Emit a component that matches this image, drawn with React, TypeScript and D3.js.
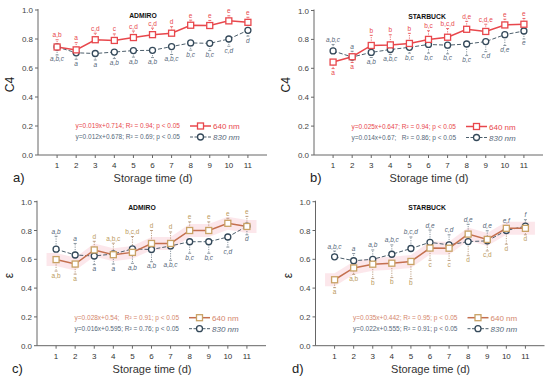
import React from 'react';
import * as d3 from 'd3';

// storage days
const days = [1, 2, 3, 4, 5, 6, 7, 8, 9, 10, 11];
const yTicks = [0, 0.2, 0.4, 0.6, 0.8, 1.0];
const xTicks = [1, 2, 3, 4, 5, 6, 7, 8, 9, 10, 11];

// a) C4 ADMIRO
const c4Admiro640 = [0.745, 0.725, 0.795, 0.79, 0.81, 0.83, 0.84, 0.895, 0.893, 0.925, 0.915];
const c4Admiro640Err = [0.05, 0.05, 0.045, 0.045, 0.045, 0.045, 0.045, 0.035, 0.035, 0.035, 0.035];
const c4Admiro640Dir = [1, 1, 1, 1, 1, 1, 1, 1, 1, 1, 1];
const c4Admiro640Sig = ['a,b', 'a', 'c,d', 'c', 'c,d', 'c,d', 'd', 'e', 'e', 'e', 'e'];
const c4Admiro830 = [0.745, 0.705, 0.70, 0.71, 0.72, 0.722, 0.748, 0.773, 0.77, 0.80, 0.86];
const c4Admiro830Err = [0.055, 0.045, 0.045, 0.045, 0.045, 0.05, 0.055, 0.05, 0.05, 0.05, 0.04];
const c4Admiro830Dir = [-1, -1, -1, -1, -1, -1, -1, -1, -1, -1, -1];
const c4Admiro830Sig = ['a,b,c', 'a', 'a', 'a,b', 'a,b', 'a,b', 'a,b,c', 'b,c', 'b,c', 'c,d', 'd'];

// b) C4 STARBUCK
const c4Star640 = [0.643, 0.68, 0.758, 0.762, 0.772, 0.80, 0.815, 0.87, 0.855, 0.90, 0.905];
const c4Star640Err = [0.045, 0.04, 0.07, 0.07, 0.07, 0.06, 0.06, 0.055, 0.05, 0.04, 0.04];
const c4Star640Dir = [-1, -1, 1, 1, 1, 1, 1, 1, 1, 1, 1];
const c4Star640Sig = ['a', 'a', 'b', 'b', 'b', 'b,c', 'b,c,d', 'd,e', 'c,d,e', 'e', 'e'];
const c4Star830 = [0.72, 0.678, 0.71, 0.73, 0.745, 0.765, 0.76, 0.768, 0.785, 0.833, 0.858];
const c4Star830Err = [0.045, 0.04, 0.035, 0.035, 0.04, 0.06, 0.06, 0.08, 0.07, 0.075, 0.055];
const c4Star830Dir = [1, 1, -1, -1, -1, -1, -1, -1, -1, -1, -1];
const c4Star830Sig = ['a,b,c', 'a', 'a,b', 'a,b,c', 'b,c', 'b,c', 'b,c', 'b,c', 'c,d', 'd,e', 'e'];

// c) epsilon ADMIRO
const epsAdmiro640 = [0.598, 0.567, 0.665, 0.632, 0.648, 0.71, 0.71, 0.80, 0.80, 0.85, 0.828];
const epsAdmiro640Err = [0.08, 0.07, 0.06, 0.08, 0.11, 0.09, 0.08, 0.06, 0.06, 0.035, 0.07];
const epsAdmiro640Dir = [-1, -1, 1, 1, 1, 1, 1, 1, 1, 1, 1];
const epsAdmiro640Sig = ['a,b', 'a', 'd', 'a,b,c', 'b,c,d', 'd', 'd', 'e', 'e', 'e', 'e'];
const epsAdmiro830 = [0.67, 0.63, 0.623, 0.637, 0.672, 0.668, 0.693, 0.722, 0.722, 0.755, 0.83];
const epsAdmiro830Err = [0.09, 0.08, 0.06, 0.07, 0.1, 0.085, 0.1, 0.08, 0.08, 0.07, 0.06];
const epsAdmiro830Dir = [1, 1, -1, -1, -1, -1, -1, -1, -1, -1, -1];
const epsAdmiro830Sig = ['a,b', 'a', 'a', 'a', 'a,b', 'a,b', 'a,b,c', 'b,c', 'b,c', 'c,d', 'd'];

// d) epsilon STARBUCK
const epsStar640 = [0.458, 0.54, 0.566, 0.573, 0.585, 0.678, 0.677, 0.775, 0.738, 0.815, 0.815];
const epsStar640Err = [0.055, 0.045, 0.1, 0.1, 0.12, 0.085, 0.085, 0.15, 0.08, 0.11, 0.045];
const epsStar640Dir = [-1, -1, -1, -1, -1, -1, -1, -1, -1, -1, -1];
const epsStar640Sig = ['a', 'a,b', 'b', 'b', 'b', 'c', 'c', 'd', 'c,d', 'd', 'd'];
const epsStar830 = [0.617, 0.59, 0.60, 0.635, 0.675, 0.718, 0.70, 0.723, 0.728, 0.80, 0.83];
const epsStar830Err = [0.04, 0.05, 0.065, 0.065, 0.08, 0.085, 0.07, 0.12, 0.07, 0.035, 0.045];
const epsStar830Dir = [1, 1, 1, 1, 1, 1, 1, 1, 1, 1, 1];
const epsStar830Sig = ['a,b,c', 'a', 'a,b', 'a,b,c', 'b,c,d', 'd,e', 'c,d', 'd,e', 'd,e', 'e,f', 'f'];

const FONT = '"Liberation Sans", Arial, sans-serif';
const SLATE = '#34495a';
const SLATE_TXT = '#56687a';

type Series = { v: number[]; err: number[]; dir: number[]; sig: string[] };

type PanelProps = {
  ox: number; top: number; bottom: number;
  title: string; titleX: number; yLabel: string; tag: string; tagX: number;
  s640: Series; s830: Series; eq640: string; eq830: string;
  warm: boolean;
};

function Panel(p: PanelProps) {
  const x = d3.scaleLinear().domain([0, 12]).range([p.ox, p.ox + 229]);
  const y = d3.scaleLinear().domain([0, 1]).range([p.bottom, p.top]);
  const line = d3.line<number>().x((_, i) => x(days[i])).y(d => y(d));
  const c640 = p.warm ? '#c4704f' : '#e8474c';
  const m640 = p.warm ? '#c9a265' : '#e8474c';
  const t640 = p.warm ? '#bb9a5c' : '#e8474c';
  const eqc640 = p.warm ? '#d4866c' : '#e8474c';
  // shaded band behind the 640 nm series (panels c, d)
  const bandVals = [p.s640.v[0], ...p.s640.v, p.s640.v[p.s640.v.length - 1]];
  const bandArea = d3.area<number>()
    .x((_, i) => x(i === 0 ? 0.5 : i === bandVals.length - 1 ? 11.5 : days[i - 1]))
    .y0(d => y(d - 0.045)).y1(d => y(d + 0.045));

  const errBars = (s: Series, col: string, tcol: string, italic: boolean) =>
    s.v.map((v, i) => {
      const end = y(v + s.dir[i] * s.err[i]);
      const ly = s.dir[i] > 0 ? end - 2.5 : end + 6.5;
      return (
        <g key={i}>
          <line x1={x(days[i])} x2={x(days[i])} y1={y(v)} y2={end} stroke={col} strokeWidth={0.8} strokeDasharray="1.2,1.2" />
          <line x1={x(days[i]) - 1.5} x2={x(days[i]) + 1.5} y1={end} y2={end} stroke={col} strokeWidth={0.8} />
          <text x={x(days[i])} y={ly} fontSize={6.5} textAnchor="middle" fill={tcol} fontStyle={italic ? 'italic' : 'normal'}>{s.sig[i]}</text>
        </g>
      );
    });

  const ly1 = p.top + 116;
  const ly2 = p.top + 127;
  return (
    <g fontFamily={FONT}>
      {p.warm && <path d={bandArea(bandVals) || ''} fill="#fce3e8" opacity={0.85} />}
      {/* axes */}
      <line x1={p.ox} x2={p.ox} y1={p.top - 1} y2={p.bottom} stroke="#666" strokeWidth={1} />
      <line x1={p.ox} x2={p.ox + 229} y1={p.bottom} y2={p.bottom} stroke="#666" strokeWidth={1} />
      {yTicks.map(t => (
        <g key={t}>
          <line x1={p.ox - 3} x2={p.ox} y1={y(t)} y2={y(t)} stroke="#666" />
          <text x={p.ox - 5} y={y(t) + 3} fontSize={8} textAnchor="end" fill="#444">{t.toFixed(1)}</text>
        </g>
      ))}
      {xTicks.map(t => (
        <g key={t}>
          <line x1={x(t)} x2={x(t)} y1={p.bottom} y2={p.bottom + 3} stroke="#666" />
          <text x={x(t)} y={p.bottom + 13} fontSize={8} textAnchor="middle" fill="#333">{t}</text>
        </g>
      ))}
      <text x={p.ox + 115} y={p.bottom + 27} fontSize={11} textAnchor="middle" fill="#333">Storage time (d)</text>
      <text x={p.tagX} y={p.bottom + 27} fontSize={13} fill="#222">{p.tag}</text>
      <text transform={`translate(${p.ox - 24},${(p.top + p.bottom) / 2 + 2}) rotate(-90)`} fontSize={12} textAnchor="middle" fill="#222">{p.yLabel}</text>
      <text x={p.titleX} y={p.top + 8} fontSize={6.8} fontWeight="bold" textAnchor="middle" fill="#111">{p.title}</text>

      {/* error bars + significance letters */}
      {errBars(p.s830, '#6b7a86', SLATE_TXT, true)}
      {errBars(p.s640, p.warm ? '#b08b6a' : '#e8474c', t640, false)}

      {/* lines */}
      <path d={line(p.s830.v) || ''} fill="none" stroke="#4d5f6c" strokeWidth={1} strokeDasharray="4,2" />
      <path d={line(p.s640.v) || ''} fill="none" stroke={c640} strokeWidth={1.5} />
      {p.s830.v.map((v, i) => (
        <circle key={i} cx={x(days[i])} cy={y(v)} r={3} fill="#fff" stroke={SLATE} strokeWidth={1.3} />
      ))}
      {p.s640.v.map((v, i) => (
        <rect key={i} x={x(days[i]) - 3} y={y(v) - 3} width={6} height={6} fill="#fff" stroke={m640} strokeWidth={1.3} />
      ))}

      {/* legend */}
      <text x={p.ox + 142} y={ly1 + 2} fontSize={6.5} textAnchor="end" fill={eqc640} style={{ whiteSpace: 'pre' }}>{p.eq640}</text>
      <text x={p.ox + 142} y={ly2 + 2} fontSize={6.5} textAnchor="end" fill={SLATE_TXT} style={{ whiteSpace: 'pre' }}>{p.eq830}</text>
      <line x1={p.ox + 152} x2={p.ox + 173} y1={ly1} y2={ly1} stroke={c640} strokeWidth={1.5} />
      <rect x={p.ox + 159.5} y={ly1 - 3} width={6} height={6} fill="#fff" stroke={m640} strokeWidth={1.3} />
      <text x={p.ox + 175} y={ly1 + 3} fontSize={8} fill={eqc640}>640 nm</text>
      <line x1={p.ox + 152} x2={p.ox + 173} y1={ly2} y2={ly2} stroke="#4d5f6c" strokeWidth={1} strokeDasharray="3,1.5" />
      <circle cx={p.ox + 162.5} cy={ly2} r={3} fill="#fff" stroke={SLATE} strokeWidth={1.3} />
      <text x={p.ox + 175} y={ly2 + 3} fontSize={8} fontStyle="italic" fill={SLATE_TXT}>830 nm</text>
    </g>
  );
}

export default function App() {
  return (
    <svg width={550} height={378} style={{ position: 'absolute', left: 0, top: 0, background: '#fff' }}>
      <Panel ox={38} top={10} bottom={155} title="ADMIRO" titleX={143} yLabel="C4" tag="a)" tagX={13}
        s640={{ v: c4Admiro640, err: c4Admiro640Err, dir: c4Admiro640Dir, sig: c4Admiro640Sig }}
        s830={{ v: c4Admiro830, err: c4Admiro830Err, dir: c4Admiro830Dir, sig: c4Admiro830Sig }}
        eq640="y=0.019x+0.714; R² = 0.94; p < 0.05" eq830="y=0.012x+0.678; R² = 0.69; p < 0.05" warm={false} />
      <Panel ox={314} top={10.5} bottom={155} title="STARBUCK" titleX={427} yLabel="C4" tag="b)" tagX={310}
        s640={{ v: c4Star640, err: c4Star640Err, dir: c4Star640Dir, sig: c4Star640Sig }}
        s830={{ v: c4Star830, err: c4Star830Err, dir: c4Star830Dir, sig: c4Star830Sig }}
        eq640="y=0.025x+0.647; R² = 0.94; p < 0.05" eq830="y=0.014x+0.67;   R² = 0.86; p < 0.05" warm={false} />
      <Panel ox={37} top={201.7} bottom={345.7} title="ADMIRO" titleX={142} yLabel="ε" tag="c)" tagX={12}
        s640={{ v: epsAdmiro640, err: epsAdmiro640Err, dir: epsAdmiro640Dir, sig: epsAdmiro640Sig }}
        s830={{ v: epsAdmiro830, err: epsAdmiro830Err, dir: epsAdmiro830Dir, sig: epsAdmiro830Sig }}
        eq640="y=0.028x+0.54;   R² = 0.91; p < 0.05" eq830="y=0.016x+0.595; R² = 0.76; p < 0.05" warm={true} />
      <Panel ox={315.5} top={201.7} bottom={345.7} title="STARBUCK" titleX={427} yLabel="ε" tag="d)" tagX={292}
        s640={{ v: epsStar640, err: epsStar640Err, dir: epsStar640Dir, sig: epsStar640Sig }}
        s830={{ v: epsStar830, err: epsStar830Err, dir: epsStar830Dir, sig: epsStar830Sig }}
        eq640="y=0.035x+0.442; R² = 0.95; p < 0.05" eq830="y=0.022x+0.555; R² = 0.91; p < 0.05" warm={true} />
    </svg>
  );
}
